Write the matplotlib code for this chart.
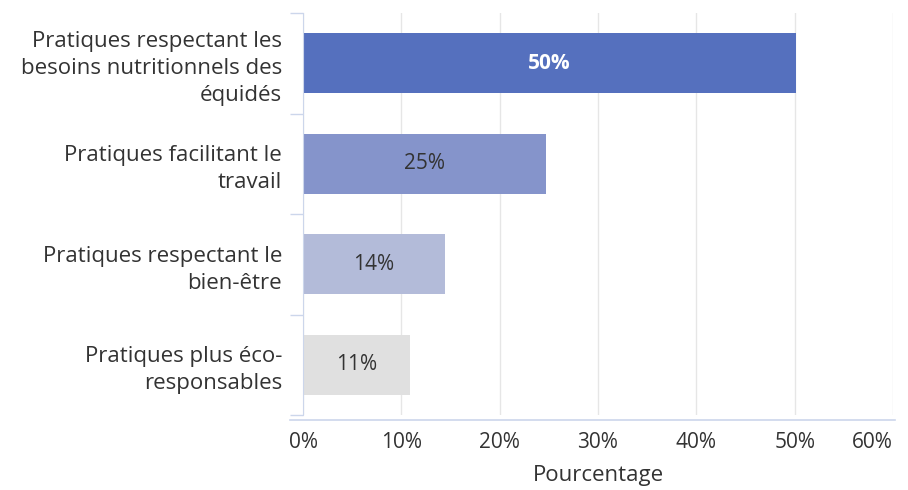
import matplotlib.pyplot as plt
import numpy as np

# data
categories = [
    "Pratiques respectant les\nbesoins nutritionnels des\néquidés",
    "Pratiques facilitant le\ntravail",
    "Pratiques respectant le\nbien-être",
    "Pratiques plus éco-\nresponsables",
]
values = [50.1, 24.7, 14.4, 10.9]
bar_labels = ["50%", "25%", "14%", "11%"]
colors = ["#5570be", "#8594cb", "#b3bbd9", "#e0e0e0"]
label_colors = ["white", "#333333", "#333333", "#333333"]
xticks = [0, 10, 20, 30, 40, 50, 60]

plt.rcParams["font.family"] = ["Open Sans", "DejaVu Sans"]

fig = plt.figure(figsize=(9.08, 4.90), dpi=100)
ax = fig.add_axes([303 / 908, 1 - 415 / 490, 590 / 908, 402 / 490])

y = np.arange(len(categories))
ax.barh(y, values, height=0.6, color=colors, zorder=3)
for yi, v, lab, c in zip(y, values, bar_labels, label_colors):
    ax.text(v / 2, yi, lab, ha="center", va="center", color=c, fontsize=15,
            fontweight="bold" if c == "white" else "normal", zorder=4)

ax.set_xlim(0, 60)
ax.set_ylim(len(categories) - 0.5, -0.5)
ax.set_yticks(y)
ax.set_yticklabels(categories, fontsize=16, color="#333333", linespacing=1.38)
ax.set_yticks(np.arange(-0.5, len(categories)), minor=True)
ax.tick_params(axis="y", which="major", length=0, pad=15)
ax.tick_params(axis="y", which="minor", length=9.5, color="#ccd6eb", width=1)

ax.set_xticks(xticks)
ax.set_xticklabels([f"{t}%" for t in xticks], fontsize=15, color="#333333")
ax.tick_params(axis="x", length=0, pad=12)
tl = ax.get_xticklabels()
tl[-1].set_ha("right")
tl[-1].set_x(60)

ax.grid(axis="x", color="#e6e6e6", linewidth=1, zorder=0)
for s in ["top", "right", "bottom"]:
    ax.spines[s].set_visible(False)
ax.spines["left"].set_color("#ccd6eb")
ax.spines["left"].set_zorder(5)

# x axis line, a bit below the plot area
ax.plot([-13 / 590, 1.003], [-5 / 402, -5 / 402], transform=ax.transAxes,
        color="#ccd6eb", linewidth=1.2, clip_on=False)

ax.set_xlabel("Pourcentage", fontsize=16, color="#333333", labelpad=9)

fig.savefig("out.png", dpi=100)
